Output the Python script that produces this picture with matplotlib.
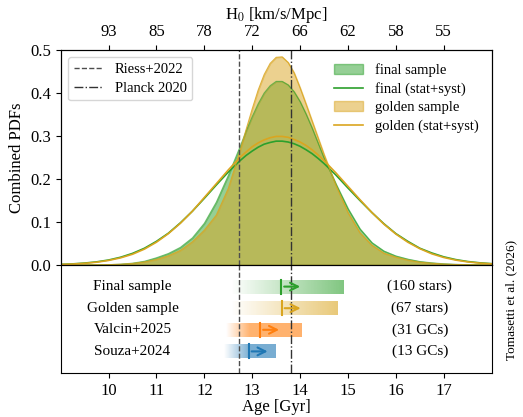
import numpy as np
import matplotlib
matplotlib.use('Agg')
import matplotlib.pyplot as plt

plt.rcParams['font.family'] = ['Liberation Serif', 'DejaVu Serif']
plt.rcParams['mathtext.fontset'] = 'stix'

ages = [9.0, 9.25, 9.5, 9.75, 10.0, 10.25, 10.5, 10.75, 11.0, 11.25, 11.5, 11.75, 12.0,
        12.25, 12.5, 12.75, 12.875, 13.0, 13.125, 13.25, 13.375, 13.5, 13.625, 13.75,
        13.875, 14.0, 14.125, 14.25, 14.375, 14.5, 14.75, 15.0, 15.25, 15.5, 15.75, 16.0,
        16.25, 16.5, 16.75, 17.0, 17.25, 17.5, 17.75, 18.0]
final_sample = [0.0, 0.0, 0.0001, 0.0003, 0.0008, 0.0019, 0.0042, 0.0087, 0.0168, 0.0267,
                0.041, 0.063, 0.097, 0.146, 0.208, 0.276, 0.312, 0.345, 0.375, 0.400,
                0.417, 0.427, 0.427, 0.419, 0.403, 0.380, 0.351, 0.319, 0.284, 0.249,
                0.188, 0.131, 0.084, 0.052, 0.0325, 0.021, 0.0136, 0.0081, 0.005, 0.0028,
                0.0015, 0.0008, 0.0004, 0.0002]
golden_sample = [0.0, 0.0, 0.0001, 0.0003, 0.0008, 0.0018, 0.0036, 0.0071, 0.013, 0.0216,
                 0.034, 0.054, 0.081, 0.116, 0.178, 0.267, 0.316, 0.363, 0.407, 0.443,
                 0.469, 0.483, 0.484, 0.471, 0.447, 0.412, 0.374, 0.335, 0.296, 0.257,
                 0.185, 0.122, 0.075, 0.046, 0.0275, 0.0184, 0.0115, 0.0066, 0.0041, 0.0022,
                 0.0012, 0.0006, 0.0003, 0.0001]
final_syst = [0.0015, 0.0026, 0.0045, 0.0073, 0.0116, 0.018, 0.027, 0.039, 0.055, 0.074,
              0.098, 0.125, 0.155, 0.186, 0.216, 0.243, 0.255, 0.265, 0.274, 0.281,
              0.285, 0.288, 0.288, 0.286, 0.282, 0.276, 0.268, 0.259, 0.248, 0.236,
              0.209, 0.179, 0.150, 0.122, 0.096, 0.073, 0.055, 0.039, 0.028, 0.019,
              0.0126, 0.0081, 0.0051, 0.0031]
golden_syst = [0.0012, 0.0022, 0.0039, 0.0065, 0.0106, 0.0166, 0.025, 0.037, 0.053, 0.073,
               0.097, 0.125, 0.157, 0.189, 0.221, 0.251, 0.263, 0.275, 0.284, 0.291,
               0.296, 0.299, 0.299, 0.297, 0.292, 0.286, 0.278, 0.268, 0.256, 0.243,
               0.214, 0.183, 0.152, 0.122, 0.095, 0.072, 0.053, 0.038, 0.026, 0.0175,
               0.0114, 0.0072, 0.0044, 0.0026]

riess_age = 12.73
planck_age = 13.80

age_ticks = [10, 11, 12, 13, 14, 15, 16, 17]
h0_labels = ['93', '85', '78', '72', '66', '62', '58', '55']

samples = ['Final sample', 'Golden sample', 'Valcin+2025', 'Souza+2024']
counts = ['(160 stars)', '(67 stars)', '(31 GCs)', '(13 GCs)']
lower_lim = [13.61, 13.62, 13.17, 12.93]
bar_start = [12.55, 12.55, 12.45, 12.42]
bar_full = [14.89, 14.77, 12.95, 12.95]
bar_end = [14.89, 14.77, 14.03, 13.49]
row_colors = ['#2ca02c', '#DAA520', '#ff7f0e', '#1f77b4']

green = '#2ca02c'
gold = '#DAA520'

fig = plt.figure(figsize=(5.23, 4.17), dpi=100)
ax = fig.add_axes([0.116, 0.3645, 0.824, 0.5156])
ax2 = fig.add_axes([0.116, 0.1055, 0.824, 0.259], sharex=ax)

fill_f = ax.fill_between(ages, final_sample, color=green, alpha=0.5, lw=1)
ax.plot(ages, final_sample, color=green, lw=0.8, alpha=0.6)
line_f, = ax.plot(ages, final_syst, color=green, lw=1.2)
fill_g = ax.fill_between(ages, golden_sample, color=gold, alpha=0.5, lw=1)
ax.plot(ages, golden_sample, color=gold, lw=0.8, alpha=0.8)
line_g, = ax.plot(ages, golden_syst, color=gold, lw=1.2)

l1 = ax.axvline(riess_age, color='0.3', ls='--', lw=1)
l2 = ax.axvline(planck_age, color='0.2', ls='-.', lw=1)

leg1 = ax.legend([l1, l2], ['Riess+2022', 'Planck 2020'], loc='upper left', fontsize=10.5,
                 labelspacing=0.35)
ax.add_artist(leg1)
ax.legend([fill_f, line_f, fill_g, line_g],
          ['final sample', 'final (stat+syst)', 'golden sample', 'golden (stat+syst)'],
          loc='upper right', frameon=False, fontsize=10.5, labelspacing=0.35)

ax.set_xlim(9, 18)
ax.set_ylim(0, 0.5)
ax.set_yticks([0.0, 0.1, 0.2, 0.3, 0.4, 0.5])
ax.set_ylabel('Combined PDFs', fontsize=12)
ax.tick_params(axis='x', bottom=False, labelbottom=False)
ax.tick_params(labelsize=12)

top = ax.twiny()
top.set_xlim(ax.get_xlim())
top.set_xticks(age_ticks)
top.set_xticklabels(h0_labels)
top.tick_params(labelsize=12)
top.set_xlabel(r'H$_0$ [km/s/Mpc]', fontsize=12)

# lower panel: age limits from each sample
for i in range(len(samples)):
    y = 4 - i
    c = matplotlib.colors.to_rgb(row_colors[i])
    xs = np.linspace(bar_start[i], bar_end[i], 300)
    alpha = np.clip((xs - bar_start[i]) / (bar_full[i] - bar_start[i]), 0, 1) * 0.6
    img = np.zeros((1, len(xs), 4))
    img[0, :, :3] = c
    img[0, :, 3] = alpha
    ax2.imshow(img, extent=[bar_start[i], bar_end[i], y - 0.32, y + 0.32],
               aspect='auto', interpolation='bilinear', zorder=1)
    ax2.plot([lower_lim[i], lower_lim[i]], [y - 0.32, y + 0.32], color=row_colors[i], lw=1.5, zorder=3)
    ax2.annotate('', xy=(lower_lim[i] + 0.45, y), xytext=(lower_lim[i], y),
                 arrowprops=dict(arrowstyle='->', color=row_colors[i], lw=1.5, mutation_scale=14),
                 zorder=3)
    ax2.text(10.5, y, samples[i], ha='center', va='center', fontsize=11)
    ax2.text(16.5, y, counts[i], ha='center', va='center', fontsize=11)

ax2.axvline(riess_age, color='0.3', ls='--', lw=1)
ax2.axvline(planck_age, color='0.2', ls='-.', lw=1)
ax2.set_xlim(9, 18)
ax2.set_ylim(0, 5)
ax2.set_yticks([])
ax2.set_xticks(age_ticks)
ax2.tick_params(labelsize=12)
ax2.set_xlabel('Age [Gyr]', fontsize=12, labelpad=0.5)

fig.text(0.977, 0.137, 'Tomasetti et al. (2026)', rotation=90, fontsize=9.5, ha='center', va='bottom')

fig.savefig('out.png', dpi=100)
